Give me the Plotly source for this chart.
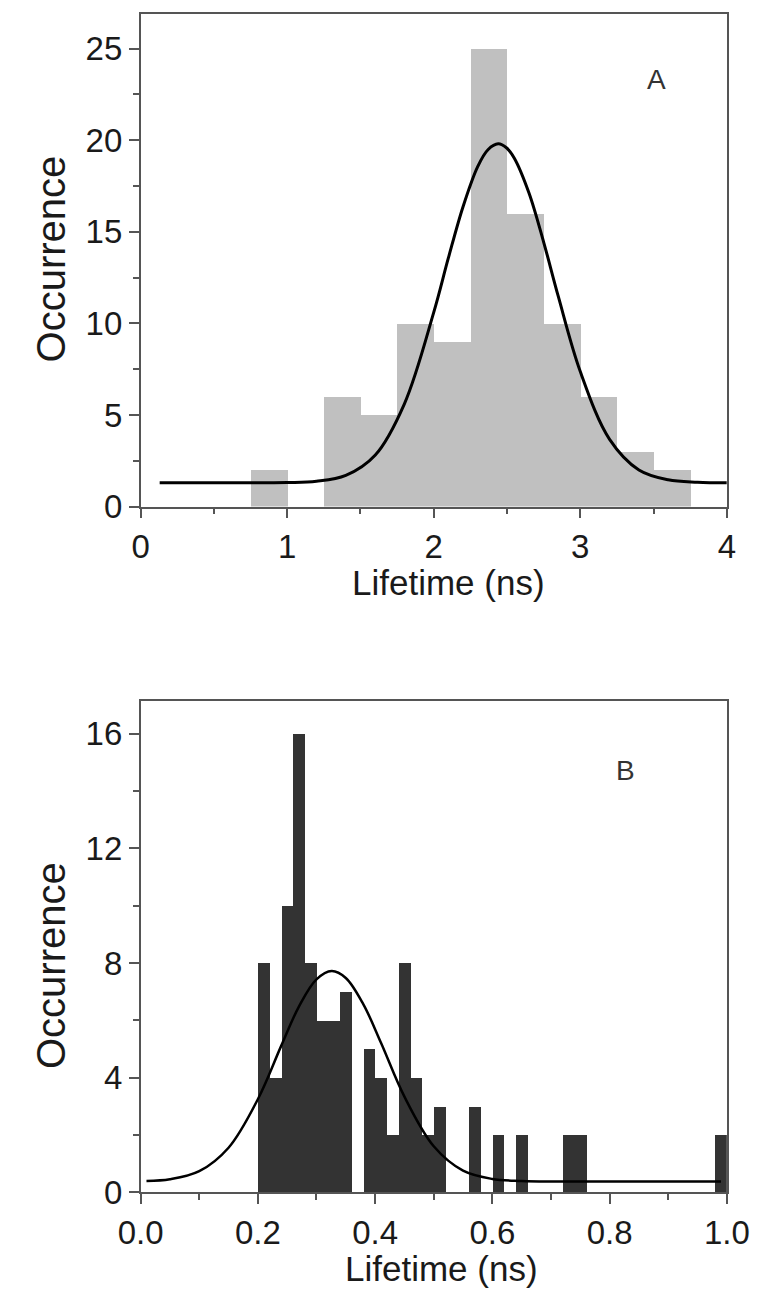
import plotly.graph_objects as go

# ---------------- data ----------------
# Panel A histogram (bin width 0.25 ns)
a_bin_left = [0.75, 1.00, 1.25, 1.50, 1.75, 2.00, 2.25, 2.50, 2.75, 3.00, 3.25, 3.50]
a_counts   = [2,    0,    6,    5,    10,   9,    25,   16,   10,   6,    3,    2]
a_bin_width = 0.25

# Panel A fitted curve
a_fit_x = [0.13, 0.5, 1.0, 1.2, 1.4, 1.6, 1.8, 2.0, 2.1, 2.2, 2.3, 2.37, 2.44,
           2.5, 2.55, 2.65, 2.75, 2.85, 3.0, 3.2, 3.4, 3.6, 3.8, 4.0]
a_fit_y = [1.30, 1.30, 1.31, 1.38, 1.70, 2.80, 5.61, 10.60, 13.57, 16.37, 18.56, 19.48, 19.80,
           19.56, 19.02, 17.12, 14.44, 11.47, 7.37, 3.67, 2.00, 1.46, 1.33, 1.30]

# Panel B histogram (bin width 0.02 ns)
b_bin_left = [0.20, 0.22, 0.24, 0.26, 0.28, 0.30, 0.32, 0.34, 0.36, 0.38,
              0.40, 0.42, 0.44, 0.46, 0.48, 0.50, 0.52, 0.54, 0.56, 0.58,
              0.60, 0.62, 0.64, 0.66, 0.68, 0.70, 0.72, 0.74, 0.76, 0.78,
              0.80, 0.82, 0.84, 0.86, 0.88, 0.90, 0.92, 0.94, 0.96, 0.98]
b_counts   = [8, 4, 10, 16, 8, 6, 6, 7, 0, 5,
              4, 2, 8, 4, 2, 3, 0, 0, 3, 0,
              2, 0, 2, 0, 0, 0, 2, 2, 0, 0,
              0, 0, 0, 0, 0, 0, 0, 0, 0, 2]
b_bin_width = 0.02

# Panel B fitted curve
b_fit_x = [0.01, 0.05, 0.10, 0.15, 0.20, 0.24, 0.27, 0.30, 0.326, 0.35,
           0.38, 0.41, 0.45, 0.50, 0.55, 0.60, 0.65, 0.70, 0.80, 0.99]
b_fit_y = [0.40, 0.46, 0.74, 1.56, 3.25, 5.12, 6.48, 7.43, 7.72, 7.48,
           6.56, 5.22, 3.34, 1.61, 0.76, 0.47, 0.40, 0.38, 0.38, 0.38]

x_title = "Lifetime (ns)"
y_title = "Occurrence"
panel_labels = ["A", "B"]

# ---------------- figure ----------------
W, H = 779, 1309
FONT = "Liberation Sans, Arial, Helvetica, sans-serif"
AXC = "#555555"
TXT = "#1a1a1a"
FS_TICK = 33
FS_XT = 35
FS_YT = 40

fig = go.Figure()

fig.add_trace(go.Bar(
    x=[l + a_bin_width / 2 for l in a_bin_left], y=a_counts, width=a_bin_width,
    marker=dict(color="#c0c0c0", line=dict(width=0)),
    xaxis="x", yaxis="y", showlegend=False))
fig.add_trace(go.Scatter(
    x=a_fit_x, y=a_fit_y, mode="lines", line=dict(color="black", width=3, shape="spline"),
    xaxis="x", yaxis="y", showlegend=False))

fig.add_trace(go.Bar(
    x=[l + b_bin_width / 2 for l in b_bin_left], y=b_counts, width=b_bin_width,
    marker=dict(color="#333333", line=dict(width=0)),
    xaxis="x2", yaxis="y2", showlegend=False))
fig.add_trace(go.Scatter(
    x=b_fit_x, y=b_fit_y, mode="lines", line=dict(color="black", width=2.5, shape="spline"),
    xaxis="x2", yaxis="y2", showlegend=False))

xdom = [125 / W, 748 / W]
ydomA = [1 - 514 / H, 1 - 14 / H]
ydomB = [1 - 1210 / H, 1 - 711 / H]

def axis_common():
    return dict(
        showline=True, linecolor=AXC, linewidth=1.5, mirror=True,
        ticks="outside", ticklen=10, tickwidth=1.5, tickcolor=AXC,
        showgrid=False, zeroline=False,
        tickfont=dict(family=FONT, size=FS_TICK, color=TXT),
    )

def minor(dt):
    return dict(ticks="outside", ticklen=6, tickwidth=1.5, tickcolor=AXC, dtick=dt)

fig.update_layout(
    width=W, height=H,
    margin=dict(l=0, r=0, t=0, b=0),
    paper_bgcolor="white", plot_bgcolor="white",
    bargap=0,
    xaxis=dict(domain=xdom, anchor="y", range=[0, 4], tickvals=[0, 1, 2, 3, 4],
               minor=minor(0.5), **axis_common()),
    yaxis=dict(domain=ydomA, anchor="x", range=[0, 26.9], tickvals=[0, 5, 10, 15, 20, 25],
               minor=minor(2.5), **axis_common()),
    xaxis2=dict(domain=xdom, anchor="y2", range=[0, 1],
                tickvals=[0, 0.2, 0.4, 0.6, 0.8, 1.0], tickformat=".1f",
                minor=minor(0.1), **axis_common()),
    yaxis2=dict(domain=ydomB, anchor="x2", range=[0, 17.15], tickvals=[0, 4, 8, 12, 16],
                minor=minor(2), **axis_common()),
)

yt_font = dict(family=FONT, size=FS_YT, color=TXT)
xt_font = dict(family=FONT, size=FS_XT, color=TXT)
lab_font = dict(family=FONT, size=28, color="#333333")
annotations = [
    dict(text=y_title, x=30 / W, y=1 - 263 / H, xref="paper", yref="paper",
         textangle=-90, showarrow=False, font=yt_font, xanchor="center", yanchor="middle"),
    dict(text=y_title, x=30 / W, y=1 - 980 / H, xref="paper", yref="paper",
         textangle=-90, showarrow=False, font=yt_font, xanchor="center", yanchor="middle"),
    dict(text=x_title, x=452 / W, y=1 - 591 / H, xref="paper", yref="paper",
         showarrow=False, font=xt_font, xanchor="center", yanchor="middle"),
    dict(text=x_title, x=445 / W, y=1 - 1287 / H, xref="paper", yref="paper",
         showarrow=False, font=xt_font, xanchor="center", yanchor="middle"),
    dict(text=panel_labels[0], x=3.52, y=23.3, xref="x", yref="y",
         showarrow=False, font=lab_font, xanchor="center", yanchor="middle"),
    dict(text=panel_labels[1], x=0.827, y=14.7, xref="x2", yref="y2",
         showarrow=False, font=lab_font, xanchor="center", yanchor="middle"),
]
fig.update_layout(annotations=annotations)

fig.write_html("out.html")
